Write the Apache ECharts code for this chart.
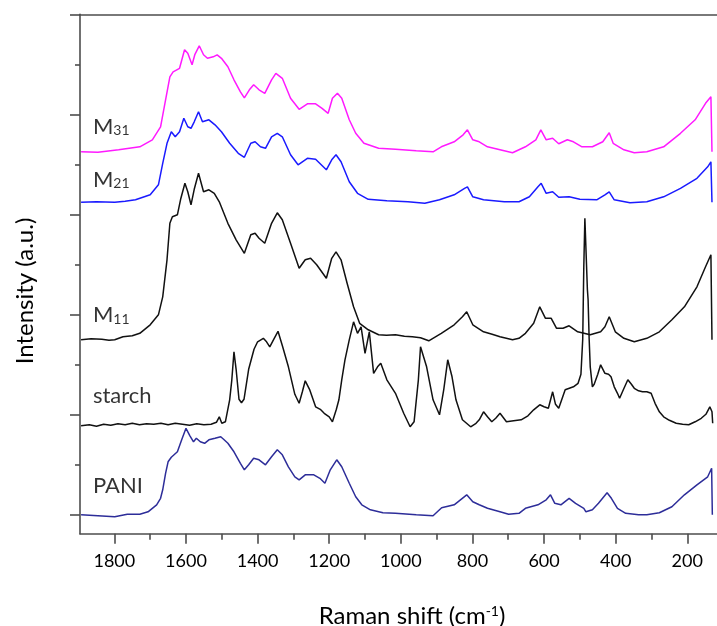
<!DOCTYPE html>
<html><head><meta charset="utf-8">
<script src="https://cdn.jsdelivr.net/npm/echarts@6/dist/echarts.min.js"></script>
<style>html,body{margin:0;padding:0;background:#fff}#c{width:717px;height:626px}</style>
</head><body><div id="c"></div>
<script>
// Raman shift (cm-1) vs stacked intensity (a.u., offset per spectrum)
const xMajorTicks = [1800,1600,1400,1200,1000,800,600,400,200];
const xMinorTicks = [1700,1500,1300,1100,900,700,500,300];
const yMajorTicks = [0,2,4,6,8,10];
const yMinorTicks = [1,3,5,7,9];

const pani = [[1893,-0.01],[1846,-0.03],[1799,-0.05],[1764,0.0],[1729,0.0],[1706,0.05],[1682,0.19],[1671,0.32],[1665,0.49],[1657,0.82],[1650,1.05],[1641,1.14],[1624,1.25],[1612,1.49],[1600,1.72],[1589,1.57],[1579,1.45],[1571,1.52],[1560,1.45],[1548,1.42],[1536,1.49],[1519,1.52],[1503,1.55],[1495,1.50],[1483,1.42],[1466,1.25],[1448,1.02],[1437,0.89],[1425,0.99],[1411,1.12],[1396,1.09],[1378,0.99],[1361,1.15],[1345,1.29],[1331,1.19],[1314,0.95],[1296,0.75],[1284,0.69],[1267,0.79],[1243,0.79],[1226,0.72],[1212,0.62],[1197,0.89],[1179,1.09],[1165,0.95],[1144,0.62],[1126,0.35],[1109,0.19],[1085,0.09],[1050,0.03],[1015,0.02],[957,-0.01],[910,-0.03],[886,0.13],[851,0.19],[816,0.39],[799,0.25],[781,0.19],[758,0.12],[723,0.05],[699,0.0],[670,0.02],[652,0.12],[617,0.19],[594,0.29],[582,0.39],[570,0.22],[553,0.19],[530,0.32],[512,0.22],[489,0.12],[483,0.05],[465,0.09],[448,0.22],[424,0.43],[412,0.32],[395,0.12],[372,0.02],[336,-0.01],[313,-0.01],[278,0.03],[243,0.15],[208,0.39],[173,0.59],[143,0.75],[132,0.92],[130,-0.01]];

const starch = [[1893,1.77],[1870,1.79],[1850,1.76],[1830,1.80],[1810,1.78],[1790,1.81],[1770,1.79],[1750,1.82],[1730,1.79],[1710,1.81],[1690,1.80],[1670,1.82],[1650,1.79],[1630,1.82],[1610,1.80],[1590,1.78],[1570,1.81],[1550,1.79],[1530,1.80],[1515,1.84],[1507,1.95],[1500,1.82],[1490,1.85],[1478,2.29],[1472,2.69],[1466,3.25],[1460,2.9],[1452,2.3],[1445,2.23],[1438,2.3],[1425,2.9],[1410,3.3],[1400,3.45],[1384,3.52],[1375,3.45],[1366,3.35],[1355,3.5],[1343,3.66],[1330,3.35],[1314,2.95],[1296,2.40],[1284,2.22],[1275,2.45],[1267,2.67],[1255,2.5],[1238,2.15],[1225,2.1],[1214,2.02],[1200,1.95],[1191,1.85],[1180,2.1],[1173,2.29],[1165,2.69],[1156,3.09],[1144,3.49],[1132,3.85],[1121,3.62],[1111,3.75],[1100,3.22],[1088,3.65],[1076,2.82],[1065,2.95],[1056,3.02],[1039,2.69],[1015,2.42],[992,2.02],[974,1.75],[963,1.85],[951,2.69],[945,3.35],[928,2.95],[910,2.29],[892,1.99],[880,2.5],[869,3.09],[857,2.75],[846,2.29],[828,1.89],[805,1.75],[790,1.82],[781,1.89],[769,2.05],[758,1.95],[746,1.85],[735,1.92],[723,2.02],[705,1.85],[685,1.87],[664,1.89],[645,1.97],[629,2.09],[612,2.19],[600,2.15],[588,2.12],[576,2.45],[568,2.2],[559,2.12],[541,2.49],[518,2.55],[505,2.62],[497,2.8],[492,3.5],[489,4.95],[486,5.92],[482,5.92],[479,4.5],[477,4.29],[474,3.5],[471,2.95],[465,2.55],[460,2.6],[450,2.8],[442,2.99],[430,2.82],[420,2.8],[413,2.75],[404,2.55],[395,2.42],[389,2.32],[378,2.5],[366,2.69],[356,2.6],[348,2.52],[336,2.47],[325,2.45],[313,2.45],[301,2.42],[290,2.22],[278,2.05],[266,1.95],[250,1.88],[231,1.82],[213,1.80],[196,1.79],[178,1.85],[161,1.92],[148,2.0],[137,2.15],[131,2.05],[129,1.82]];

const m11 = [[1893,3.49],[1865,3.51],[1835,3.50],[1815,3.48],[1799,3.49],[1776,3.55],[1750,3.57],[1729,3.62],[1700,3.79],[1677,3.99],[1665,4.35],[1653,5.09],[1645,5.82],[1638,5.95],[1624,5.99],[1615,6.3],[1603,6.62],[1595,6.45],[1586,6.19],[1577,6.5],[1565,6.82],[1551,6.45],[1536,6.49],[1521,6.42],[1507,6.25],[1483,5.82],[1460,5.49],[1437,5.22],[1419,5.59],[1407,5.62],[1396,5.52],[1380,5.42],[1361,5.82],[1345,6.03],[1331,5.89],[1308,5.42],[1284,4.92],[1267,5.09],[1252,5.12],[1235,4.99],[1208,4.72],[1193,5.12],[1181,5.25],[1167,5.09],[1150,4.62],[1132,4.15],[1115,3.82],[1091,3.69],[1062,3.59],[1040,3.58],[1015,3.59],[990,3.56],[968,3.55],[945,3.53],[922,3.47],[887,3.62],[851,3.79],[828,3.95],[816,4.05],[799,3.79],[769,3.65],[745,3.6],[723,3.55],[688,3.49],[670,3.52],[652,3.62],[629,3.82],[612,4.15],[596,3.92],[580,3.92],[565,3.72],[547,3.72],[530,3.77],[506,3.65],[471,3.59],[442,3.65],[430,3.75],[418,3.95],[401,3.65],[377,3.52],[348,3.45],[313,3.52],[278,3.65],[243,3.89],[208,4.15],[173,4.55],[149,4.95],[134,5.19],[131,3.49]];

const m21 = [[1893,6.24],[1850,6.25],[1799,6.24],[1770,6.26],[1741,6.29],[1700,6.39],[1677,6.59],[1665,7.02],[1653,7.42],[1641,7.65],[1630,7.55],[1618,7.65],[1606,7.92],[1595,7.75],[1586,7.72],[1577,7.85],[1565,8.05],[1554,7.85],[1536,7.89],[1519,7.79],[1501,7.65],[1478,7.42],[1454,7.22],[1437,7.14],[1419,7.42],[1407,7.45],[1392,7.35],[1378,7.32],[1361,7.55],[1345,7.62],[1331,7.55],[1308,7.19],[1287,6.99],[1261,7.12],[1238,7.10],[1208,6.89],[1193,7.09],[1181,7.19],[1167,7.05],[1144,6.65],[1121,6.42],[1091,6.30],[1039,6.27],[980,6.25],[933,6.22],[892,6.29],[851,6.39],[822,6.52],[814,6.55],[799,6.35],[769,6.29],[711,6.25],[670,6.25],[641,6.35],[617,6.55],[608,6.62],[594,6.42],[576,6.45],[559,6.34],[530,6.35],[500,6.30],[453,6.29],[430,6.39],[418,6.45],[404,6.29],[360,6.23],[313,6.25],[266,6.35],[219,6.52],[173,6.72],[143,6.95],[134,7.05],[131,6.24]];

const m31 = [[1893,7.25],[1846,7.24],[1788,7.29],[1729,7.35],[1694,7.49],[1671,7.75],[1657,8.29],[1645,8.75],[1636,8.85],[1618,8.92],[1604,9.29],[1595,9.22],[1583,8.99],[1575,9.2],[1563,9.37],[1551,9.19],[1540,9.12],[1524,9.15],[1513,9.19],[1501,9.12],[1483,8.95],[1466,8.69],[1448,8.45],[1437,8.33],[1423,8.49],[1411,8.59],[1396,8.49],[1380,8.42],[1361,8.69],[1349,8.82],[1331,8.72],[1308,8.32],[1284,8.10],[1261,8.21],[1238,8.21],[1220,8.12],[1203,8.02],[1191,8.32],[1177,8.42],[1165,8.32],[1144,7.89],[1126,7.62],[1103,7.42],[1062,7.32],[1015,7.30],[957,7.27],[910,7.25],[887,7.35],[851,7.45],[826,7.59],[814,7.69],[799,7.49],[781,7.45],[758,7.35],[723,7.29],[688,7.23],[652,7.35],[623,7.49],[609,7.69],[594,7.49],[576,7.52],[559,7.41],[535,7.49],[518,7.45],[494,7.35],[465,7.35],[436,7.45],[418,7.63],[407,7.42],[377,7.29],[348,7.23],[313,7.25],[266,7.35],[219,7.62],[178,7.89],[149,8.22],[134,8.35],[131,7.25]];

// spectrum labels (text, with subscript digits)
const labelTexts = ['{m|M}{s|31}','{m|M}{s|21}','{m|M}{s|11}','{m|starch}','{m|PANI}'];
const labelAnchors = [[1860,7.75],[1860,6.69],[1860,3.98],[1860,2.36],[1860,0.57]];

const X_MIN = 117, X_MAX = 1896, Y_MIN = -0.388, Y_MAX = 10;
const AX = '#4d4d4d';
const FONT = 'Lato, "Open Sans", sans-serif';

const chart = echarts.init(document.getElementById('c'), null, {renderer:'canvas'});

function xAx(extra){
  return Object.assign({type:'value', inverse:true, min:X_MIN, max:X_MAX, position:'bottom',
    splitLine:{show:false}, axisLine:{show:false, onZero:false}, axisTick:{show:false}, axisLabel:{show:false}}, extra);
}
function yAx(extra){
  return Object.assign({type:'value', min:Y_MIN, max:Y_MAX, position:'left',
    splitLine:{show:false}, axisLine:{show:false, onZero:false}, axisTick:{show:false}, axisLabel:{show:false}}, extra);
}

const lineSeries = (name, data, color) => ({
  name, type:'line', data, xAxisIndex:0, yAxisIndex:0, showSymbol:false, symbol:'none',
  lineStyle:{color, width:1.5}, itemStyle:{color}, animation:false, silent:true, z:3
});

chart.setOption({
  animation:false,
  backgroundColor:'#fff',
  grid:{left:80, right:0, top:14.3, bottom:92.3, outerBoundsMode:'none', containLabel:false},
  xAxis:[
    xAx({axisLine:{show:true, onZero:false, lineStyle:{color:AX, width:1.6}},
         axisTick:{show:true, customValues:xMajorTicks, length:10, lineStyle:{color:AX, width:1.6}},
         axisLabel:{show:true, customValues:xMajorTicks, margin:18, color:'#000', fontFamily:FONT, fontSize:18,
                    formatter:(v)=>String(Math.round(v))}}),
    xAx({axisTick:{show:true, customValues:xMinorTicks, length:6, lineStyle:{color:AX, width:1.6}}}),
    xAx({position:'top', axisLine:{show:true, onZero:false, lineStyle:{color:AX, width:1.6}}})
  ],
  yAxis:[
    yAx({axisLine:{show:true, onZero:false, lineStyle:{color:AX, width:1.6}},
         axisTick:{show:true, customValues:yMajorTicks, length:10, lineStyle:{color:AX, width:1.6}}}),
    yAx({axisTick:{show:true, customValues:yMinorTicks, length:5, lineStyle:{color:AX, width:1.6}}})
  ],
  series:[
    lineSeries('PANI', pani, '#2d2d99'),
    lineSeries('starch', starch, '#111111'),
    lineSeries('M11', m11, '#111111'),
    lineSeries('M21', m21, '#1a1aff'),
    lineSeries('M31', m31, '#ff1aff'),
    {
      type:'scatter', xAxisIndex:0, yAxisIndex:0, symbolSize:0, silent:true, z:5,
      data: labelAnchors.map((p,i)=>({value:p, label:{formatter:labelTexts[i]}})),
      label:{show:true, position:'right', distance:0, align:'left', verticalAlign:'middle',
        rich:{
          m:{fontFamily:FONT, fontSize:22, color:'#000', lineHeight:22},
          s:{fontFamily:FONT, fontSize:14, color:'#000', lineHeight:10, verticalAlign:'bottom'}
        }}
    }
  ],
  graphic:[
    {type:'text', x:25, y:291, rotation:Math.PI/2, silent:true,
      style:{text:'Intensity (a.u.)', fontFamily:FONT, fontSize:24, fill:'#000', align:'center', verticalAlign:'middle'}},
    {type:'text', x:412, y:616, silent:true,
      style:{text:'{a|Raman shift (cm}{b|-1}{a|)}', align:'center', verticalAlign:'middle',
        rich:{
          a:{fontFamily:FONT, fontSize:24, fill:'#000', color:'#000', lineHeight:24},
          b:{fontFamily:FONT, fontSize:14, fill:'#000', color:'#000', lineHeight:10, verticalAlign:'top'}
        }}}
  ]
});
</script></body></html>
